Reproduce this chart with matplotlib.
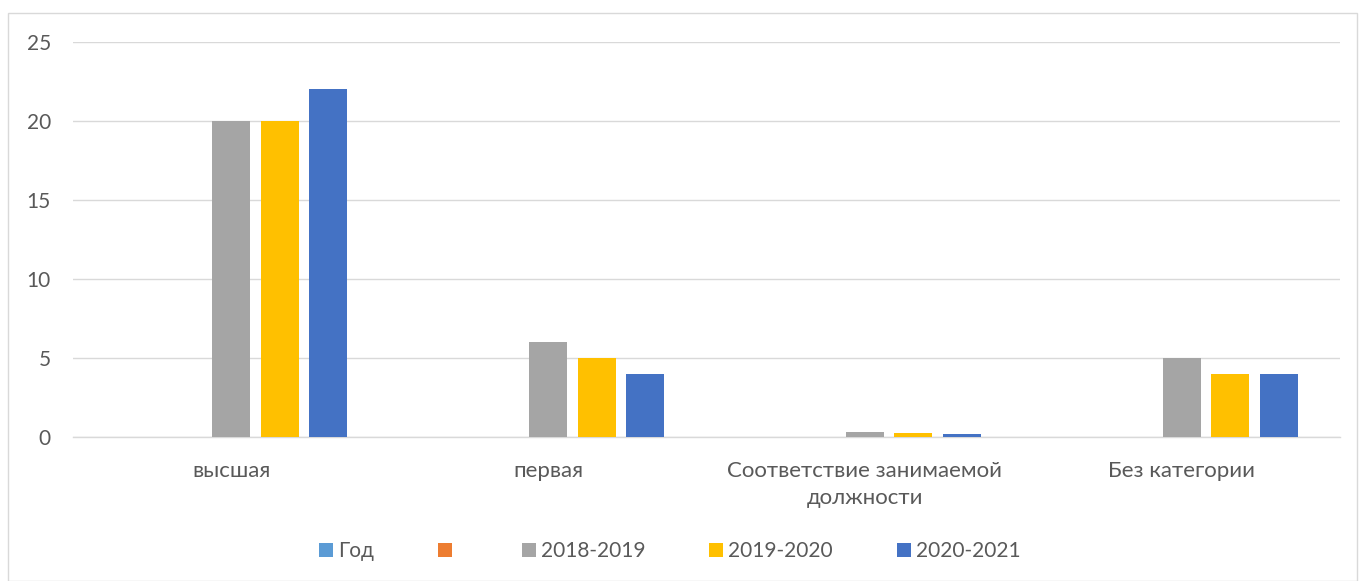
import matplotlib
matplotlib.use("Agg")
import matplotlib.pyplot as plt
from matplotlib.patches import Rectangle, Patch
import numpy as np

categories = ["высшая", "первая", "Соответствие занимаемой\nдолжности", "Без категории"]
series_names = ["Год", "", "2018-2019", "2019-2020", "2020-2021"]
vals_god = [0, 0, 0, 0]
vals_blank = [0, 0, 0, 0]
vals_2018 = [20, 6, 0.3, 5]
vals_2019 = [20, 5, 0.25, 4]
vals_2020 = [22, 4, 0.2, 4]
yticks = [0, 5, 10, 15, 20, 25]

colors = ["#5B9BD5", "#ED7D31", "#A5A5A5", "#FFC000", "#4472C4"]
series = [vals_god, vals_blank, vals_2018, vals_2019, vals_2020]

plt.rcParams['font.family'] = ['Lato', 'DejaVu Sans']
txt = "#595959"
fs = 15

fig = plt.figure(figsize=(13.59, 5.81), dpi=100)
ax = fig.add_axes([73/1359, 1-437/581, (1340-73)/1359, (437-42)/581])

x = np.arange(len(categories))
step = 0.153
width = 0.12
for i, (vals, c) in enumerate(zip(series, colors)):
    ax.bar(x + (i - 2) * step, vals, width=width, color=c, zorder=3)

ax.set_xlim(-0.5, len(categories) - 0.5)
ax.set_ylim(0, 25)
ax.set_yticks(yticks)
ax.set_yticklabels([str(t) for t in yticks], fontsize=fs, color=txt)
ax.set_xticks(x)
ax.set_xticklabels(categories, fontsize=16, color=txt, linespacing=1.42)
ax.tick_params(axis='both', length=0)
ax.tick_params(axis='y', pad=16)
ax.tick_params(axis='x', pad=17.5)
ax.grid(axis='y', color="#D9D9D9", linewidth=1, zorder=0)
for s in ["top", "right", "left"]:
    ax.spines[s].set_visible(False)
ax.spines["bottom"].set_color("#D9D9D9")
ax.spines["bottom"].set_linewidth(1)
ax.spines["bottom"].set_zorder(1)

handles = [Patch(facecolor=c, edgecolor='none') for c in colors]
labels = list(series_names)
leg = fig.legend(handles, labels, loc='center', bbox_to_anchor=(670/1359, 1-551/581),
                 ncol=5, frameon=False, fontsize=fs, handlelength=0.67, handleheight=0.67,
                 handletextpad=0.24, columnspacing=3.08, labelcolor=txt)

fig.patches.append(Rectangle((8/1359, 0), (1357-8)/1359, 1-13/581, transform=fig.transFigure,
                             fill=False, edgecolor="#D9D9D9", linewidth=1))

fig.savefig("out.png", dpi=100)
